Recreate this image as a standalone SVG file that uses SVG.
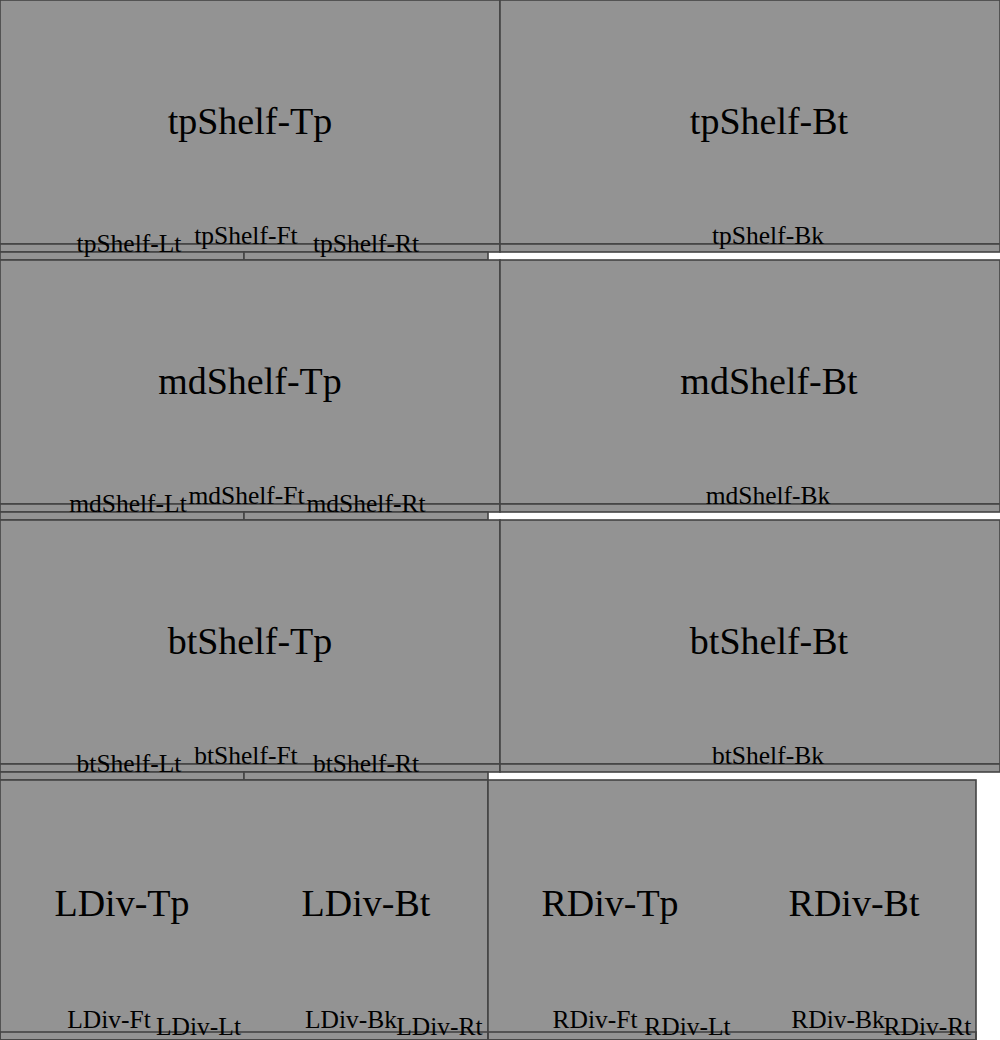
<svg xmlns="http://www.w3.org/2000/svg" width="1000" height="1040" viewBox="0 0 1000 1040">
<style>
.f{fill:#939393;stroke:#444;stroke-width:1.6}
.n{fill:#939393;stroke:none}
.o{fill:none;stroke:#444;stroke-width:1.6}
.L{font-family:"Liberation Serif",serif;font-size:38px;fill:#000;text-anchor:middle}
.S{font-family:"Liberation Serif",serif;font-size:25.5px;fill:#000;text-anchor:middle}
</style>
<rect x="0" y="0" width="1000" height="1040" fill="#fff"/>
<g id="tpShelf">
<g id="tpShelf-Tp"><rect class="f" x="0" y="0" width="500" height="244"/><text class="L" x="250" y="134">tpShelf-Tp</text></g>
<g id="tpShelf-Bt"><rect class="f" x="500" y="0" width="500" height="244"/><text class="L" x="769" y="134">tpShelf-Bt</text></g>
<g id="tpShelf-Ft"><rect class="f" x="0" y="244" width="500" height="8"/></g>
<g id="tpShelf-Bk"><rect class="f" x="500" y="244" width="500" height="8"/></g>
<g id="tpShelf-Lt"><rect class="f" x="0" y="252" width="244" height="8"/></g>
<g id="tpShelf-Rt"><rect class="f" x="244" y="252" width="244" height="8"/></g>
<text class="S" x="246" y="244">tpShelf-Ft</text>
<text class="S" x="768" y="244">tpShelf-Bk</text>
<text class="S" x="129" y="252">tpShelf-Lt</text>
<text class="S" x="366" y="252">tpShelf-Rt</text>
</g>
<g id="mdShelf" transform="translate(0,260)">
<g id="mdShelf-Tp"><rect class="f" x="0" y="0" width="500" height="244"/><text class="L" x="250" y="134">mdShelf-Tp</text></g>
<g id="mdShelf-Bt"><rect class="f" x="500" y="0" width="500" height="244"/><text class="L" x="769" y="134">mdShelf-Bt</text></g>
<g id="mdShelf-Ft"><rect class="f" x="0" y="244" width="500" height="8"/></g>
<g id="mdShelf-Bk"><rect class="f" x="500" y="244" width="500" height="8"/></g>
<g id="mdShelf-Lt"><rect class="f" x="0" y="252" width="244" height="8"/></g>
<g id="mdShelf-Rt"><rect class="f" x="244" y="252" width="244" height="8"/></g>
<text class="S" x="246.5" y="244">mdShelf-Ft</text>
<text class="S" x="768" y="244">mdShelf-Bk</text>
<text class="S" x="128" y="252">mdShelf-Lt</text>
<text class="S" x="366" y="252">mdShelf-Rt</text>
</g>
<g id="btShelf" transform="translate(0,520)">
<g id="btShelf-Tp"><rect class="f" x="0" y="0" width="500" height="244"/><text class="L" x="250" y="134">btShelf-Tp</text></g>
<g id="btShelf-Bt"><rect class="f" x="500" y="0" width="500" height="244"/><text class="L" x="769" y="134">btShelf-Bt</text></g>
<g id="btShelf-Ft"><rect class="f" x="0" y="244" width="500" height="8"/></g>
<g id="btShelf-Bk"><rect class="f" x="500" y="244" width="500" height="8"/></g>
<g id="btShelf-Lt"><rect class="f" x="0" y="252" width="244" height="8"/></g>
<g id="btShelf-Rt"><rect class="f" x="244" y="252" width="244" height="8"/></g>
<text class="S" x="246" y="244">btShelf-Ft</text>
<text class="S" x="768" y="244">btShelf-Bk</text>
<text class="S" x="129" y="252">btShelf-Lt</text>
<text class="S" x="366" y="252">btShelf-Rt</text>
</g>
<g id="LDiv">
<g id="LDiv-Tp"><rect class="n" x="0" y="780" width="244" height="252"/><text class="L" x="122" y="916">LDiv-Tp</text></g>
<g id="LDiv-Bt"><rect class="n" x="244" y="780" width="244" height="252"/><text class="L" x="366" y="916">LDiv-Bt</text></g>
<g id="LDiv-strip"><rect class="f" x="0" y="1032" width="488" height="8"/></g>
<rect class="o" x="0" y="780" width="488" height="260"/>
<g id="LDiv-Ft"><text class="S" x="109" y="1028">LDiv-Ft</text></g>
<g id="LDiv-Lt"><text class="S" x="198.5" y="1035">LDiv-Lt</text></g>
<g id="LDiv-Bk"><text class="S" x="351" y="1028">LDiv-Bk</text></g>
<g id="LDiv-Rt"><text class="S" x="439.5" y="1035">LDiv-Rt</text></g>
</g>
<g id="RDiv">
<g id="RDiv-Tp"><rect class="n" x="488" y="780" width="244" height="252"/><text class="L" x="610" y="916">RDiv-Tp</text></g>
<g id="RDiv-Bt"><rect class="n" x="732" y="780" width="244" height="252"/><text class="L" x="854" y="916">RDiv-Bt</text></g>
<g id="RDiv-strip"><rect class="f" x="488" y="1032" width="488" height="8"/></g>
<rect class="o" x="488" y="780" width="488" height="260"/>
<g id="RDiv-Ft"><text class="S" x="595" y="1028">RDiv-Ft</text></g>
<g id="RDiv-Lt"><text class="S" x="687.5" y="1035">RDiv-Lt</text></g>
<g id="RDiv-Bk"><text class="S" x="838" y="1028">RDiv-Bk</text></g>
<g id="RDiv-Rt"><text class="S" x="927.5" y="1035">RDiv-Rt</text></g>
</g>
</svg>
